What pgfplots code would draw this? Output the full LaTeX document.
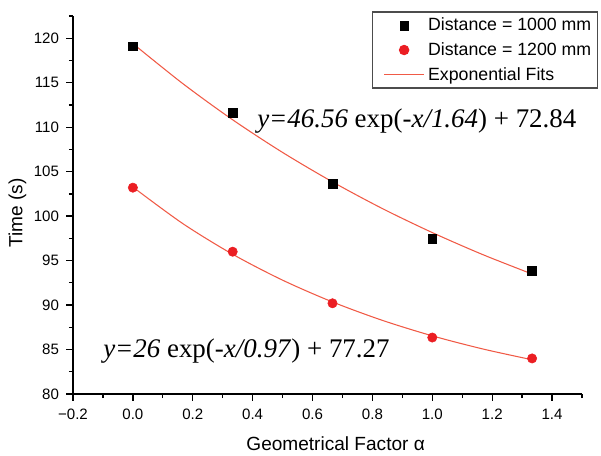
\documentclass[border=0pt]{standalone}
\usepackage{fontspec}
\setmainfont{Liberation Sans}
\newfontfamily\timesfont{Liberation Serif}
\usepackage{pgfplots}
\pgfplotsset{compat=1.18}
\definecolor{fitred}{RGB}{240,90,70}
\definecolor{ptred}{RGB}{235,30,35}
\begin{document}
\begin{tikzpicture}
\useasboundingbox (-54.75pt,-45.75pt) rectangle (396pt,295.5pt);
\begin{axis}[
  at={(0pt,0pt)}, anchor=south west,
  scale only axis, width=381.75pt, height=283.5pt,
  xmin=-0.2, xmax=1.5, ymin=80, ymax=122.5,
  axis x line*=bottom, axis y line*=left,
  axis line style={line width=1.2pt},
  xtick={-0.2,0,0.2,0.4,0.6,0.8,1.0,1.2,1.4},
  xticklabels={−0.2,0.0,0.2,0.4,0.6,0.8,1.0,1.2,1.4},
  ytick={80,85,90,95,100,105,110,115,120},
  minor x tick num=1, minor y tick num=1,
  extra x ticks={1.5}, extra x tick labels={}, extra x tick style={major tick length=3pt},
  extra y ticks={122.5}, extra y tick labels={}, extra y tick style={major tick length=3pt},
  tick align=outside,
  major tick length=5pt, minor tick length=3pt,
  every tick/.style={black, line width=1pt},
  tick label style={font=\fontsize{11.3}{13}\selectfont},
  /pgf/number format/assume math mode=true,
  xticklabel style={yshift=-3pt},
  yticklabel style={xshift=-2pt},
  ylabel={Time (s)},
  xlabel={Geometrical Factor α},
  label style={font=\fontsize{14.3}{17}\selectfont},
  ylabel style={at={(axis description cs:-0.109,0.479)}, anchor=center},
  xlabel style={at={(axis description cs:0.516,-0.132)}, anchor=center},
  legend style={at={(1.031,1.012)}, anchor=north east, draw=black!70, line width=0.8pt,
    font=\fontsize{13.3}{15.5}\selectfont, inner xsep=2.5pt, inner ysep=2.5pt,
    row sep=3.3pt},
  legend cell align=left,
]
\addplot[only marks, mark=square*, mark size=3.3pt, black,
  legend image code/.code={\path[draw=none,fill=none] (0pt,0pt) -- (37pt,0pt); \draw[mark options={line width=0.3pt}] plot coordinates {(21pt,0pt)};}]
  coordinates {(0,119.1) (0.3333,111.6) (0.6667,103.6) (1.0,97.45) (1.3333,93.85)};
\addlegendentry{Distance = 1000 mm}
\addplot[only marks, mark=*, mark size=3.5pt, ptred, draw=ptred, fill=ptred,
  legend image code/.code={\path[draw=none,fill=none] (0pt,0pt) -- (37pt,0pt); \draw plot coordinates {(21pt,0pt)};}]
  coordinates {(0,103.2) (0.3333,96.0) (0.6667,90.2) (1.0,86.35) (1.3333,84.0)};
\addlegendentry{Distance = 1200 mm}
\addplot[fitred, line width=0.8pt, smooth, no marks,
  legend image code/.code={\path[draw=none] (0pt,0pt) -- (37pt,0pt); \draw[fitred, line width=0.8pt] (6pt,0pt) -- (36pt,0pt);}]
  coordinates {(0,119.40) (0.1667,114.90) (0.3333,110.83) (0.5,107.16) (0.6667,103.85)
   (0.8333,100.85) (1.0,98.15) (1.1667,95.70) (1.3333,93.49)};
\addlegendentry{Exponential Fits}
\addplot[fitred, line width=0.8pt, smooth, no marks, forget plot]
  coordinates {(0,103.27) (0.1667,99.16) (0.3333,95.71) (0.5,92.80) (0.6667,90.35)
   (0.8333,88.28) (1.0,86.54) (1.1667,85.08) (1.3333,83.85)};
\node[anchor=base west, inner sep=0pt, font=\timesfont\fontsize{20.2}{24}\selectfont]
  at (axis cs:0.4146,109.95) {\textit{y=46.56} exp(\textit{-x/1.64}) + 72.84};
\node[anchor=base west, inner sep=0pt, font=\timesfont\fontsize{20.2}{24}\selectfont]
  at (axis cs:-0.0998,84.05) {\textit{y=26} exp(\textit{-x/0.97}) + 77.27};
\end{axis}
\end{tikzpicture}
\end{document}
